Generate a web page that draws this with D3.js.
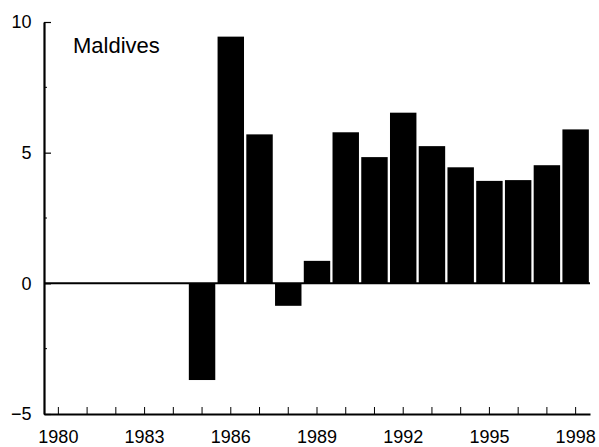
<!DOCTYPE html>
<html>
<head>
<meta charset="utf-8">
<script src="https://cdn.jsdelivr.net/npm/d3@7"></script>
<style>
  body { margin: 0; background: #fff; }
  svg { display: block; }
  .axis text { font-family: "Liberation Sans", Arial, sans-serif; font-size: 18px; fill: #000; }
  .axis path, .axis line { stroke: #000; }
</style>
</head>
<body>
<svg id="chart"></svg>
<script>
// data
var years = [1980, 1981, 1982, 1983, 1984, 1985, 1986, 1987, 1988, 1989,
             1990, 1991, 1992, 1993, 1994, 1995, 1996, 1997, 1998];
var barYears = [1985, 1986, 1987, 1988, 1989, 1990, 1991, 1992, 1993, 1994, 1995, 1996, 1997, 1998];
var barValues = [-3.7, 9.44, 5.7, -0.86, 0.86, 5.78, 4.83, 6.53, 5.25, 4.44, 3.92, 3.95, 4.52, 5.89];
var xTickLabels = [1980, 1983, 1986, 1989, 1992, 1995, 1998];
var yTickValues = [-5, 0, 5, 10];
var yMinorTicks = [-2.5, 2.5, 7.5];
var title = "Maldives";

var width = 599, height = 447;
var plotLeft = 44, plotRight = 590, plotTop = 22, plotBottom = 414;

var svg = d3.select("#chart")
    .attr("width", width)
    .attr("height", height);

// X Scale
var x_scale = d3.scaleBand()
    .domain(years)
    .range([plotLeft, plotRight])
    .paddingInner(0.08)
    .paddingOuter(0.04);

// Y Scale
var y_scale = d3.scaleLinear()
    .domain([-5, 10])
    .range([plotBottom, plotTop]);

// bars
svg.append("g")
    .selectAll("rect")
    .data(barYears)
    .join("rect")
    .attr("x", function (d) { return x_scale(d); })
    .attr("width", x_scale.bandwidth())
    .attr("y", function (d, i) { return y_scale(Math.max(0, barValues[i])); })
    .attr("height", function (d, i) { return Math.abs(y_scale(barValues[i]) - y_scale(0)); })
    .attr("fill", "#000");

// zero line
svg.append("line")
    .attr("x1", plotLeft)
    .attr("x2", plotRight)
    .attr("y1", y_scale(0))
    .attr("y2", y_scale(0))
    .attr("stroke", "#000")
    .attr("stroke-width", 2);

// X Axis
var x_axis = d3.axisBottom(x_scale)
    .tickSizeInner(-7)
    .tickSizeOuter(0)
    .tickPadding(16.2)
    .tickFormat(function (d) { return xTickLabels.indexOf(d) >= 0 ? d : ""; });

var gx = svg.append("g")
    .attr("class", "x axis")
    .attr("transform", "translate(0," + plotBottom + ")")
    .call(x_axis);
gx.select(".domain").attr("stroke-width", 2.2);
gx.selectAll(".tick line").attr("stroke-width", 1);
// drop the empty labels of unlabeled years
gx.selectAll(".tick text").filter(function (d) { return xTickLabels.indexOf(d) < 0; }).remove();

// Y Axis
var y_axis = d3.axisLeft(y_scale)
    .tickValues(yTickValues)
    .tickSizeInner(-7)
    .tickSizeOuter(0)
    .tickPadding(12.5);

var gy = svg.append("g")
    .attr("class", "y axis")
    .attr("transform", "translate(" + plotLeft + ",0)")
    .call(y_axis);
gy.select(".domain").attr("stroke-width", 2.2);
gy.selectAll(".tick line").attr("stroke-width", 1.2);

// minor y ticks
gy.selectAll(".minor")
    .data(yMinorTicks)
    .join("line")
    .attr("class", "minor")
    .attr("x1", 0)
    .attr("x2", 3)
    .attr("y1", function (d) { return y_scale(d); })
    .attr("y2", function (d) { return y_scale(d); })
    .attr("stroke", "#000")
    .attr("stroke-width", 1);

// title
svg.append("text")
    .text(title)
    .attr("x", 73)
    .attr("y", 53)
    .style("font-family", "'Liberation Sans', Arial, sans-serif")
    .style("font-size", "22px")
    .style("fill", "#000");
</script>
</body>
</html>
